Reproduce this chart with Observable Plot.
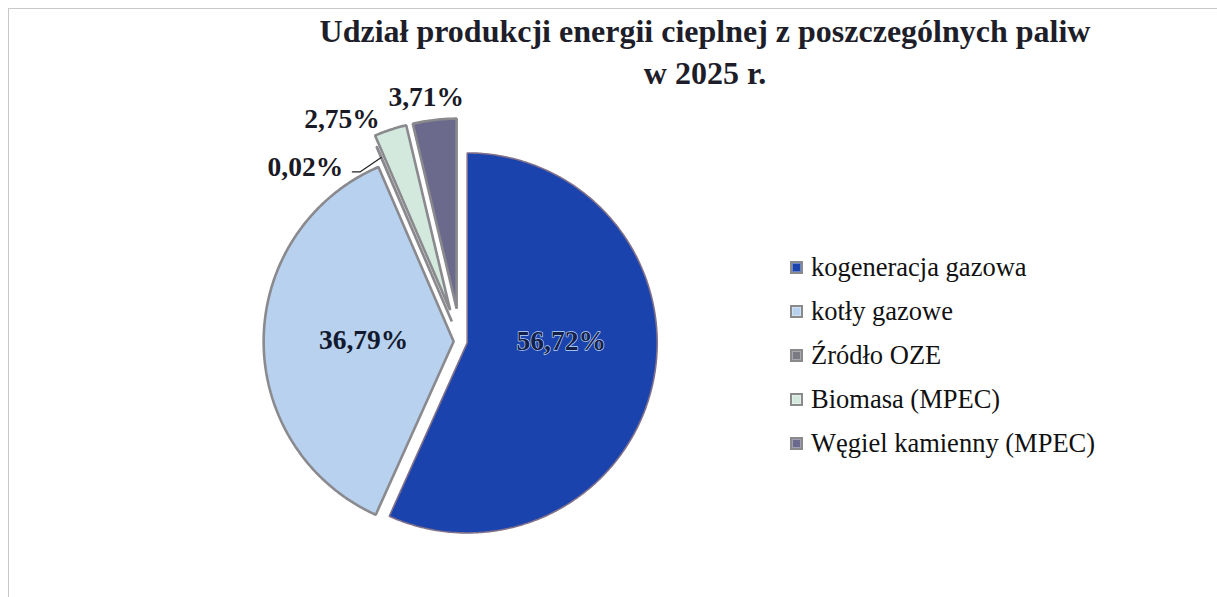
<!DOCTYPE html>
<html><head><meta charset="utf-8">
<script src="https://cdn.jsdelivr.net/npm/d3@7"></script>
<script src="https://cdn.jsdelivr.net/npm/@observablehq/plot@0.6"></script>
<style>
body{margin:0;background:#fff;}
#wrap{position:relative;width:1217px;height:597px;overflow:hidden;font-family:"Liberation Serif","Times New Roman",serif;}
#frame{position:absolute;left:8px;top:8px;right:-10px;bottom:-10px;border:1px solid #c8c8c8;}
#chart{position:absolute;left:0;top:0;}
#title{position:absolute;left:255px;width:900px;top:10px;text-align:center;font-weight:bold;font-size:32px;line-height:42px;color:#1e1e2a;}
#legend{position:absolute;left:790px;top:245px;font-size:26.5px;color:#111;}
.item{height:44px;display:flex;align-items:center;white-space:nowrap;}
.sw{width:9px;height:9px;border:2px solid #8a8a8a;margin-right:8px;box-shadow:inset 0 0 0 1px rgba(255,255,255,0.35);}
</style></head>
<body>
<div id="wrap">
  <div id="frame"></div>
  <div id="chart"></div>
  <div id="title">Udział produkcji energii cieplnej z poszczególnych paliw<br>w 2025 r.</div>
  <div id="legend"></div>
</div>
<script>
// ---- data ----
const categories = ["kogeneracja gazowa", "kotły gazowe", "Źródło OZE", "Biomasa (MPEC)", "Węgiel kamienny (MPEC)"];
const shares = [56.72, 36.79, 0.02, 2.75, 3.71];
const shareLabels = ["56,72%", "36,79%", "0,02%", "2,75%", "3,71%"];

// ---- styling / layout (not data) ----
const colors = ["#1a43ad", "#b7d1ee", "#7a7a84", "#d4e9de", "#6b6a8d"];
const explode = [0.036, 0.036, 0.115, 0.174, 0.174];      // slice offset, in radius units
const labelAt = [[90, 0.53], [270.5, 0.51], [326, 1.104], [332, 1.328], [352, 1.296]]; // label polar placement (deg, radius units)

const pie = d3.pie().sort(null).value(d => d)(shares);
const rad = Math.PI / 180;

const slices = pie.map((p, i) => {
  const mid = (p.startAngle + p.endAngle) / 2;
  const cx = Math.sin(mid) * explode[i], cy = Math.cos(mid) * explode[i];
  const n = Math.max(2, Math.ceil((p.endAngle - p.startAngle) / 0.01));
  const pts = [{x: cx, y: cy}];
  for (let k = 0; k <= n; k++) {
    const a = p.startAngle + (p.endAngle - p.startAngle) * k / n;
    pts.push({x: cx + Math.sin(a), y: cy + Math.cos(a)});
  }
  return {i, pts, mid, cx, cy};
});

const labelData = shareLabels.map((t, i) => {
  const [a, r] = labelAt[i];
  return {t, i, x: Math.sin(a * rad) * r, y: Math.cos(a * rad) * r};
});

// leader line for the tiny OZE slice
const oze = slices[2];
const lab = labelData[2];
const leader = [
  {x: lab.x + 0.048, y: lab.y - 0.022},
  {x: lab.x + 0.09, y: lab.y - 0.022},
  {x: oze.cx + Math.sin(oze.mid) * 0.94, y: oze.cy + Math.cos(oze.mid) * 0.94}
];

const marks = [];
slices.forEach(s => {
  marks.push(Plot.line(s.pts, {
    x: "x", y: "y", curve: "linear-closed",
    fill: colors[s.i],
    stroke: s.i === 0 ? "#80708a" : "#8a8a8e",
    strokeWidth: s.i === 0 ? 1.6 : 2.6,
    strokeLinejoin: "miter"
  }));
});
marks.push(Plot.line(leader, {x: "x", y: "y", stroke: "#222", strokeWidth: 1.2}));

const textStyle = {fontSize: 27.5, fontWeight: "bold", fontFamily: "Liberation Serif"};
marks.push(Plot.text(labelData.filter(d => d.i === 0), {
  x: "x", y: "y", text: "t", fill: "#15204a", stroke: "#bcd6f4",
  strokeWidth: 1.3, paintOrder: "stroke", ...textStyle
}));
marks.push(Plot.text(labelData.filter(d => d.i === 1), {
  x: "x", y: "y", text: "t", fill: "#141a2e", ...textStyle
}));
marks.push(Plot.text(labelData.filter(d => d.i === 2), {
  x: "x", y: "y", text: "t", textAnchor: "end", fill: "#1a1a26", ...textStyle
}));
marks.push(Plot.text(labelData.filter(d => d.i > 2), {
  x: "x", y: "y", text: "t", textAnchor: "middle", fill: "#1a1a26", ...textStyle
}));

const chart = Plot.plot({
  width: 1217, height: 597,
  margin: 0,
  x: {domain: [-1, 1], range: [270, 650], axis: null},
  y: {domain: [-1, 1], range: [531, 151], axis: null},
  style: {background: "transparent", overflow: "visible"},
  marks
});
document.getElementById("chart").appendChild(chart);

// legend
const leg = document.getElementById("legend");
categories.forEach((c, i) => {
  const row = document.createElement("div");
  row.className = "item";
  const sw = document.createElement("span");
  sw.className = "sw";
  sw.style.background = colors[i];
  const tx = document.createElement("span");
  tx.textContent = c;
  row.appendChild(sw); row.appendChild(tx);
  leg.appendChild(row);
});
</script>
</body></html>
